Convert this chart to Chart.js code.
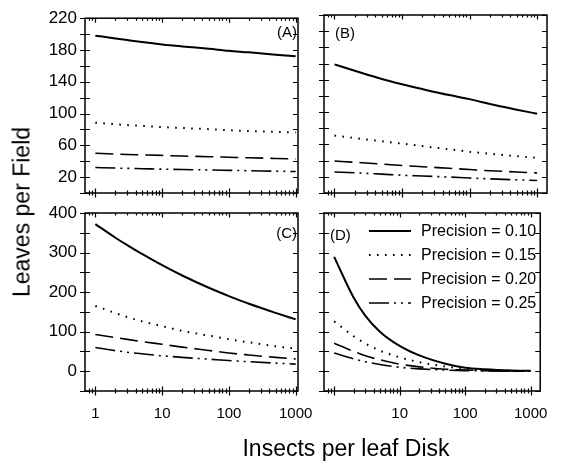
<!DOCTYPE html>
<html>
<head>
<meta charset="utf-8">
<script src="https://cdn.jsdelivr.net/npm/chart.js@4.4.0/dist/chart.umd.min.js"></script>
<style>
  body { margin: 0; background: #fff; }
  #wrap { position: relative; width: 562px; height: 466px; font-family: "Liberation Sans", Arial, sans-serif; }
  #wrap canvas { position: absolute; left: 0; top: 0; }
  .title { position: absolute; font-size: 23px; color: #000; white-space: nowrap; transform: translate(-50%, -50%); }
  #ytitle { left: 22px; top: 212px; transform: translate(-50%, -50%) rotate(-90deg); }
  #xtitle { left: 346px; top: 448px; }
</style>
</head>
<body>
<div id="wrap">
  <canvas id="pA" width="562" height="466"></canvas>
  <canvas id="pB" width="562" height="466"></canvas>
  <canvas id="pC" width="562" height="466"></canvas>
  <canvas id="pD" width="562" height="466"></canvas>
  <div class="title" id="ytitle">Leaves per Field</div>
  <div class="title" id="xtitle">Insects per leaf Disk</div>
</div>
<script>
// insects per leaf disk (x values shared by every curve)
const insects = [1, 2, 3, 5, 10, 20, 50, 100, 200, 500, 1000];
const precisions = ['Precision = 0.10', 'Precision = 0.15', 'Precision = 0.20', 'Precision = 0.25'];

// leaves per field, panel (A)
const A_p10 = [198, 194.5, 192.5, 190, 187, 184.5, 181.5, 179, 177, 174, 172];
const A_p15 = [88.5, 86.5, 85.5, 84.5, 83, 81.8, 80.3, 79, 78, 77, 76];
const A_p20 = [50, 49, 48.5, 48, 47.3, 46.5, 45.7, 45, 44.3, 43.5, 43];
const A_p25 = [32, 31.4, 31, 30.6, 30, 29.5, 29, 28.5, 28, 27.5, 27];
// panel (B)
const B_p10 = [159, 151, 146.5, 141, 134.5, 128.5, 121, 116, 110, 103, 98];
const B_p15 = [71, 68, 66, 64, 61, 58, 54, 51, 48.5, 45.5, 43.5];
const B_p20 = [39.5, 38, 37, 35.8, 34, 32.5, 30.5, 29, 27.5, 26, 24.8];
const B_p25 = [26, 25, 24.2, 23.3, 22, 21, 19.7, 18.5, 17.5, 16.3, 15.5];
// panel (C)
const C_p10 = [372, 337.5, 319, 296.5, 268, 242, 211, 190, 170.5, 147.5, 131];
const C_p15 = [165, 147, 137, 126, 114, 102, 90, 81, 73, 63, 57];
const C_p20 = [93, 85, 80.5, 75, 68, 61, 52.5, 46, 41, 35, 31];
const C_p25 = [60, 52, 48, 44, 39, 35, 30.5, 27, 24, 20.5, 18];
// panel (D)
const D_p10 = [289, 185, 140, 100, 64, 40, 19, 9, 5, 2, 1];
const D_p15 = [126, 88, 70, 52, 35, 23, 12, 6, 3, 1.5, 0.5];
const D_p20 = [71, 50, 39, 29, 18, 11, 5, 3, 1.5, 0.5, 0];
const D_p25 = [46, 31, 24, 17, 10, 6, 3, 1.5, 0.8, 0.3, 0];

// axis ticks
const xMinorTicks = [0.8, 0.9, 1, 2, 3, 4, 5, 6, 7, 8, 9, 10, 20, 30, 40, 50, 60, 70, 80, 90,
  100, 200, 300, 400, 500, 600, 700, 800, 900, 1000];
const xDecades = [1, 10, 100, 1000];
const xLabelsLeft = [1, 10, 100, 1000];
const xLabelsRight = [10, 100, 1000];
const yLabelsTop = [20, 60, 100, 140, 180, 220];
const yLabelsBottom = [0, 100, 200, 300, 400];

const lineStyles = [
  { borderWidth: 2, borderDash: [] },
  { borderWidth: 2, borderDash: [1.6, 6.4] },
  { borderWidth: 1.6, borderDash: [18, 7] },
  { borderWidth: 1.6, borderDash: [20, 5, 2, 5, 2, 5] }
];

const framePlugin = {
  id: 'frame',
  afterDraw(chart, args, o) {
    const { ctx, chartArea: a } = chart;
    const x = chart.scales.x, y = chart.scales.y;
    ctx.save();
    ctx.strokeStyle = '#000';
    ctx.lineWidth = 1.5;
    ctx.strokeRect(a.left, a.top, a.right - a.left, a.bottom - a.top);
    ctx.lineWidth = 1.2;
    ctx.beginPath();
    x.ticks.forEach(t => {
      const px = Math.round(x.getPixelForValue(t.value)) + 0.5;
      const len = xDecades.includes(t.value) ? 4.5 : 2.5;
      ctx.moveTo(px, a.bottom - len);
      ctx.lineTo(px, a.bottom + len);
      ctx.moveTo(px, a.top);
      ctx.lineTo(px, a.top + len);
    });
    y.ticks.forEach(t => {
      const py = Math.round(y.getPixelForValue(t.value)) + 0.5;
      ctx.moveTo(a.left - 5, py);
      ctx.lineTo(a.left + 5, py);
      ctx.moveTo(a.right - 5, py);
      ctx.lineTo(a.right, py);
    });
    ctx.stroke();

    ctx.fillStyle = '#000';
    ctx.font = '15px "Liberation Sans", Arial, sans-serif';
    ctx.textBaseline = 'middle';
    ctx.textAlign = o.letterAlign;
    ctx.fillText(o.letter, o.letterX, o.letterY);

    if (o.legend) {
      ctx.font = '16px "Liberation Sans", Arial, sans-serif';
      ctx.textAlign = 'left';
      chart.data.datasets.forEach((ds, i) => {
        const ly = 231 + i * 24;
        ctx.lineWidth = ds.borderWidth;
        ctx.setLineDash(ds.borderDash);
        ctx.beginPath();
        ctx.moveTo(369, ly);
        ctx.lineTo(411, ly);
        ctx.stroke();
        ctx.setLineDash([]);
        ctx.fillText(ds.label, 421, ly + 1);
      });
    }
    ctx.restore();
  }
};

function panel(id, box, series, yCfg, xCfg, frame) {
  const datasets = series.map((vals, i) => ({
    label: precisions[i],
    data: insects.map((v, k) => ({ x: v, y: vals[k] })),
    borderColor: '#000',
    borderWidth: lineStyles[i].borderWidth,
    borderDash: lineStyles[i].borderDash,
    pointRadius: 0,
    fill: false,
    cubicInterpolationMode: 'monotone'
  }));
  new Chart(document.getElementById(id), {
    type: 'line',
    data: { datasets },
    options: {
      responsive: false,
      animation: false,
      layout: { padding: { left: box.l - 40, top: box.t, right: 562 - box.r, bottom: 466 - box.b - 30 } },
      plugins: { legend: { display: false }, tooltip: { enabled: false }, frame },
      scales: {
        x: {
          type: 'logarithmic',
          min: xCfg.min,
          max: xCfg.max,
          grid: { display: false, drawTicks: false },
          border: { display: false },
          afterBuildTicks: s => { s.ticks = xMinorTicks.filter(v => v >= s.min && v <= s.max).map(v => ({ value: v })); },
          afterFit: s => { s.height = 30; },
          ticks: {
            display: xCfg.labels.length > 0,
            autoSkip: false,
            maxRotation: 0,
            padding: 14,
            color: '#000',
            font: { family: '"Liberation Sans", Arial, sans-serif', size: 15 },
            callback: v => xCfg.labels.includes(v) ? String(v) : ''
          }
        },
        y: {
          min: yCfg.min,
          max: yCfg.max,
          grid: { display: false, drawTicks: false },
          border: { display: false },
          afterFit: s => { s.width = 40; },
          ticks: {
            display: yCfg.labels.length > 0,
            stepSize: yCfg.step,
            autoSkip: false,
            padding: 8,
            color: '#000',
            font: { family: '"Liberation Sans", Arial, sans-serif', size: 17 },
            callback: v => yCfg.labels.includes(v) ? String(v) : ''
          }
        }
      }
    },
    plugins: [framePlugin]
  });
}

const topY = l => ({ min: 0, max: 220, step: 20, labels: l });
const botY = l => ({ min: -50, max: 400, step: 50, labels: l });

panel('pA', { l: 85, t: 15, r: 298, b: 193 }, [A_p10, A_p15, A_p20, A_p25],
  topY(yLabelsTop), { min: 0.726, max: 1083, labels: [] },
  { letter: '(A)', letterX: 297, letterY: 33, letterAlign: 'right' });
panel('pB', { l: 324, t: 15, r: 547, b: 193 }, [B_p10, B_p15, B_p20, B_p25],
  topY([]), { min: 0.745, max: 1400, labels: [] },
  { letter: '(B)', letterX: 335, letterY: 34, letterAlign: 'left' });
panel('pC', { l: 85, t: 213, r: 298, b: 391 }, [C_p10, C_p15, C_p20, C_p25],
  botY(yLabelsBottom), { min: 0.726, max: 1083, labels: xLabelsLeft },
  { letter: '(C)', letterX: 297, letterY: 234, letterAlign: 'right' });
panel('pD', { l: 324, t: 213, r: 547, b: 391 }, [D_p10, D_p15, D_p20, D_p25],
  botY([]), { min: 0.745, max: 1400, labels: xLabelsRight },
  { letter: '(D)', letterX: 330, letterY: 236, letterAlign: 'left', legend: true });
</script>
</body>
</html>
